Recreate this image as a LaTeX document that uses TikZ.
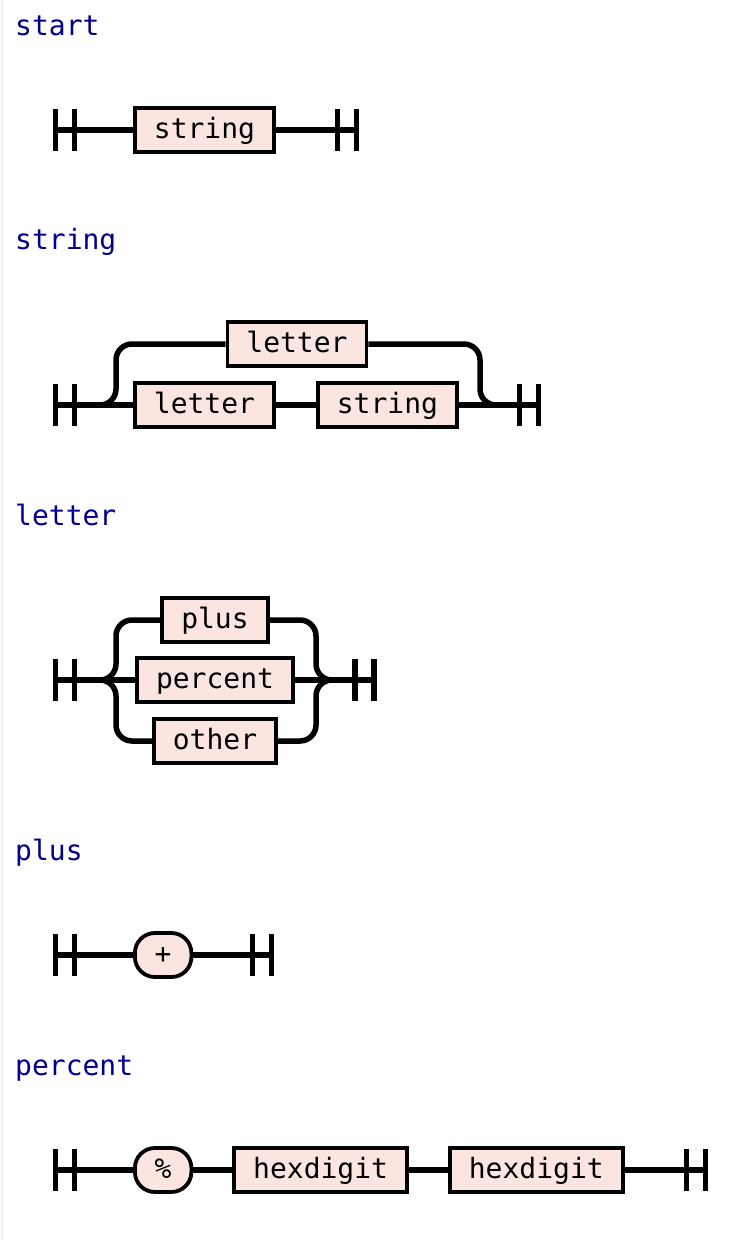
\documentclass[tikz,border=0pt]{standalone}
\usepackage{fontspec}
\setmonofont{DejaVu Sans Mono}
\usetikzlibrary{positioning}

\definecolor{boxfill}{RGB}{251,229,225}
\definecolor{rulename}{RGB}{0,0,140}

% two end bars of a rail: #1 = name, #2 = position of the first bar
\newcommand\railstop[2]{%
    \coordinate (#1) at (#2);
    \coordinate (#1-b) at ([xshift=19pt]#1);
    \draw[bar] ([yshift=21pt]#1) -- ([yshift=-21pt]#1)
               ([yshift=21pt]#1-b) -- ([yshift=-21pt]#1-b);}

\begin{document}
\begin{tikzpicture}[x=1pt, y=-1pt,
    font = \ttfamily\fontsize{28}{34}\selectfont,
    rail/.style = {line width=5.5pt},
    bar/.style = {line width=5.5pt},
    nonterm/.style = {draw, line width=3.8pt, fill=boxfill, minimum height=44pt,
                      inner xsep=19pt, inner ysep=0pt, text height=21pt, text depth=5pt},
    term/.style = {nonterm, rounded corners=20pt, inner xsep=4pt, minimum width=56.5pt},
    rulehead/.style = {anchor=base west, inner sep=0pt, text=rulename},
    node distance = 39pt]

\useasboundingbox (0,0) rectangle (746,1240);
\draw[black!7, line width=1.5pt] (2,0) -- (2,1240);

% start
\node[rulehead] (h-start) at (15,35) {start};
\railstop{st-in}{55.5,130}
\node[nonterm, anchor=west] (st-string) at (133,130) {string};
\railstop{st-out}{337.5,130}
\draw[rail] (st-in) -- (st-string) -- (st-out-b);

% string
\node[rulehead] (h-string) at (15,249) {string};
\railstop{sg-in}{55.5,405}
\coordinate (sg-split) at (116,405);
\coordinate (sg-join) at (480,405);
\node[nonterm, anchor=west] (sg-letter) at (133,405) {letter};
\node[nonterm, right=40pt of sg-letter] (sg-string) {string};
\node[nonterm] (sg-up) at (297,344) {letter};
\railstop{sg-out}{519.5,405}
\draw[rail] (sg-in) -- (sg-letter) -- (sg-string) -- (sg-out-b);
\draw[rail, rounded corners=16pt] (sg-in) -- (sg-split) |- (sg-up);
\draw[rail, rounded corners=16pt] (sg-up) -| (sg-join) -- (sg-out-b);

% letter
\node[rulehead] (h-letter) at (15,525) {letter};
\railstop{lt-in}{55.5,680}
\coordinate (lt-split) at (116,680);
\coordinate (lt-join) at (316,680);
\node[nonterm] (lt-plus) at (215,620) {plus};
\node[nonterm] (lt-percent) at (215,680) {percent};
\node[nonterm] (lt-other) at (215,741) {other};
\railstop{lt-out}{355,680}
\draw[rail] (lt-in) -- (lt-percent) -- (lt-out-b);
\draw[rail, rounded corners=16pt] (lt-in) -- (lt-split) |- (lt-plus);
\draw[rail, rounded corners=16pt] (lt-in) -- (lt-split) |- (lt-other);
\draw[rail, rounded corners=16pt] (lt-plus) -| (lt-join) -- (lt-out-b);
\draw[rail, rounded corners=16pt] (lt-other) -| (lt-join) -- (lt-out-b);

% plus
\node[rulehead] (h-plus) at (15,860) {plus};
\railstop{pl-in}{55.5,955}
\node[term, anchor=west] (pl-plus) at (133,955) {+};
\railstop{pl-out}{252.5,955}
\draw[rail] (pl-in) -- (pl-plus) -- (pl-out-b);

% percent
\node[rulehead] (h-percent) at (15,1075) {percent};
\railstop{pc-in}{55.5,1170}
\node[term, anchor=west] (pc-pct) at (133,1170) {\%};
\node[nonterm, right=of pc-pct] (pc-hex1) {hexdigit};
\node[nonterm, right=of pc-hex1] (pc-hex2) {hexdigit};
\railstop{pc-out}{686.5,1170}
\draw[rail] (pc-in) -- (pc-pct) -- (pc-hex1) -- (pc-hex2) -- (pc-out-b);

\end{tikzpicture}
\end{document}
